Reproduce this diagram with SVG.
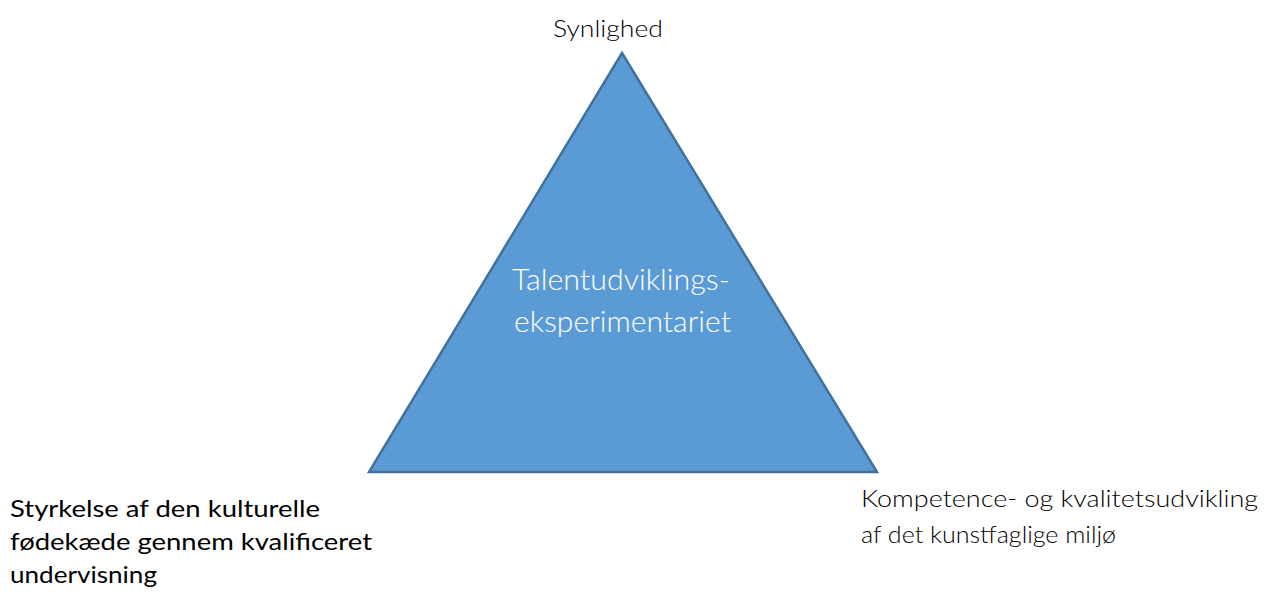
<svg xmlns="http://www.w3.org/2000/svg" width="1265" height="592" viewBox="0 0 1265 592">
<style>
.lbl{font-family:Lato,"Open Sans","Liberation Sans",sans-serif;fill:#000;font-size:24px;}
.light{font-weight:300;}
.reg{font-weight:400;}
.ctr{font-family:Lato,"Open Sans","Liberation Sans",sans-serif;font-weight:300;fill:#fff;font-size:30px;}
</style>
<rect width="1265" height="592" fill="#fff"/>
<g id="triangle">
<polygon points="622,53 369,472 877,472" fill="#5B9BD5" stroke="#41719C" stroke-width="2.5" stroke-linejoin="miter"/>
<text class="ctr" x="512" y="290" textLength="218" lengthAdjust="spacingAndGlyphs">Talentudviklings-</text>
<text class="ctr" x="514" y="332" textLength="217" lengthAdjust="spacingAndGlyphs">eksperimentariet</text>
</g>
<g id="top-label">
<text class="lbl light" x="553" y="37" textLength="110" lengthAdjust="spacingAndGlyphs">Synlighed</text>
</g>
<g id="left-label">
<text class="lbl reg" x="10" y="517" textLength="310" lengthAdjust="spacingAndGlyphs">Styrkelse af den kulturelle</text>
<text class="lbl reg" x="10" y="550" textLength="362" lengthAdjust="spacingAndGlyphs">fødekæde gennem kvalificeret</text>
<text class="lbl reg" x="10" y="583" textLength="147" lengthAdjust="spacingAndGlyphs">undervisning</text>
</g>
<g id="right-label">
<text class="lbl light" x="861" y="507" textLength="397" lengthAdjust="spacingAndGlyphs">Kompetence- og kvalitetsudvikling</text>
<text class="lbl light" x="861" y="543" textLength="255" lengthAdjust="spacingAndGlyphs">af det kunstfaglige miljø</text>
</g>
<g id="connectors"></g>
</svg>
